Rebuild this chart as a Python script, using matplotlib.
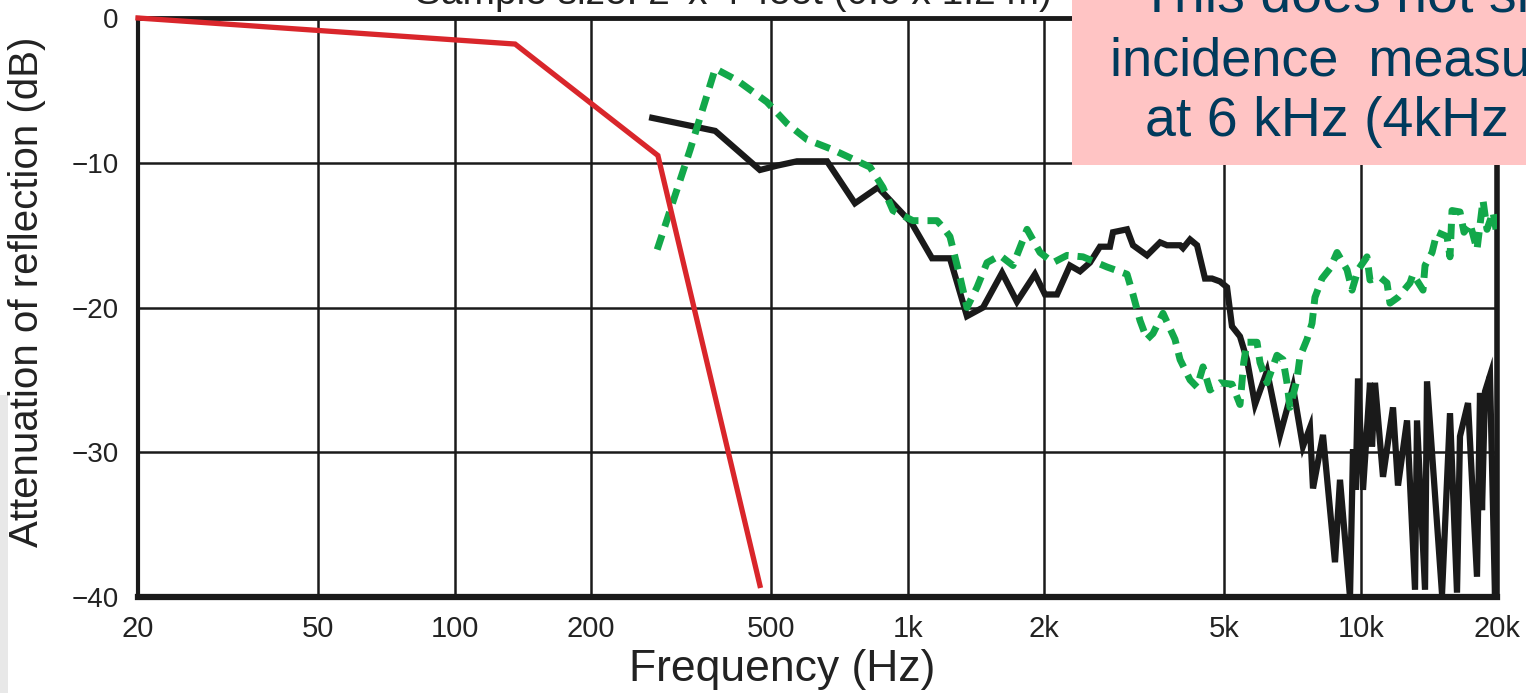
import matplotlib
matplotlib.use('Agg')
import matplotlib.pyplot as plt
from matplotlib.patches import Rectangle

# Red curve (steep roll-off)
red_freq = [20, 136, 281, 472]
red_db = [0.0, -1.8, -9.5, -39.2]

# Black curve (measured)
black_freq = [273, 376, 472, 515, 570, 664, 765, 860, 1022, 1132, 1240, 1352, 1467,
              1616, 1743, 1910, 2010, 2137, 2282, 2402, 2526, 2658, 2796, 2840, 3050,
              3144, 3376, 3608, 3738, 3994, 4054, 4202, 4354, 4534, 4698, 4892, 5070,
              5200, 5416, 5612, 5846, 6214, 6638, 7090, 7458, 7730, 7850, 8258, 8778,
              9004, 9474, 9620, 9750, 9868, 10122, 10488, 10596, 10758, 11204, 11788,
              12092, 12660, 13184, 13318, 13872, 14012, 15124, 15750, 16320, 16570,
              17260, 18066, 18346, 18534, 18818, 19300, 19798, 20000]
black_db = [-6.9, -7.8, -10.5, -10.2, -9.9, -9.9, -12.8, -11.7, -14.2, -16.6, -16.6, -20.6, -20.0,
            -17.6, -19.6, -17.7, -19.1, -19.1, -17.1, -17.5, -16.9, -15.8, -15.8, -14.8, -14.6,
            -15.7, -16.4, -15.5, -15.7, -15.7, -15.9, -15.3, -15.7, -18.0, -18.0, -18.2, -18.6,
            -21.3, -22.0, -23.6, -26.7, -24.4, -28.8, -25.5, -29.6, -28.3, -32.5, -28.8, -37.6,
            -31.9, -40.0, -29.8, -32.6, -24.9, -32.6, -25.2, -29.6, -25.2, -31.7, -26.9,
            -32.3, -27.8, -39.5, -27.8, -39.5, -25.1, -39.8, -27.3, -39.7, -28.9,
            -26.6, -38.6, -25.9, -34.0, -25.8, -24.7, -40.0, -30.5]

# Green dashed curve
green_freq = [280, 331, 376, 420, 489, 542, 600, 684, 826, 882, 928, 1027, 1161, 1200,
              1240, 1272, 1305, 1352, 1423, 1497, 1599, 1708, 1835, 1960, 2094, 2248,
              2438, 2754, 3050, 3144, 3258, 3376, 3480, 3662, 3892, 3994, 4202, 4354,
              4488, 4650, 4892, 5200, 5416, 5520, 5612, 5906, 5996, 6214, 6536, 6740,
              6878, 6982, 7234, 7346, 7614, 7810, 7928, 8216, 8560, 8870, 9334, 9572,
              9868, 10328, 10488, 11032, 11432, 11608, 12092, 12852, 13050, 13732, 13872,
              14376, 14746, 15512, 15750, 15912, 16570, 16912, 17436, 18066, 18628, 19010,
              19598, 20000]
green_db = [-16.0, -9.1, -3.5, -4.3, -5.8, -7.3, -8.4, -9.1, -10.3, -11.7, -13.3, -14.0, -14.0, -14.5,
            -15.1, -16.5, -17.9, -20.0, -18.6, -16.9, -16.4, -17.1, -14.6, -16.2, -16.9, -16.4,
            -16.5, -17.2, -17.7, -19.1, -20.9, -22.2, -21.8, -20.4, -22.2, -23.6, -25.0, -25.5,
            -24.1, -25.7, -25.2, -25.3, -26.7, -23.8, -22.4, -22.4, -23.8, -25.2, -23.3, -23.6,
            -25.2, -26.9, -25.0, -23.4, -22.2, -21.1, -19.3, -18.0, -17.3, -16.2, -17.4, -18.8,
            -17.4, -16.5, -18.1, -17.9, -18.3, -19.7, -19.3, -18.3, -17.7, -18.8, -17.1,
            -16.2, -14.8, -15.1, -16.5, -13.3, -13.4, -14.8, -14.2, -16.0, -12.6, -14.6,
            -13.4, -15.0]

x_ticks = [20, 50, 100, 200, 500, 1000, 2000, 5000, 10000, 20000]
x_labels = ['20', '50', '100', '200', '500', '1k', '2k', '5k', '10k', '20k']
y_ticks = [0, -10, -20, -30, -40]

W, H = 1526, 693
fig = plt.figure(figsize=(W / 100, H / 100), dpi=100)
fig.patch.set_facecolor('white')
ax = fig.add_axes([138 / W, 1 - 597 / H, (1497 - 138) / W, (597 - 18) / H])

ax.plot(red_freq, red_db, color='#d9262b', lw=3.8, solid_joinstyle='miter', zorder=4, clip_on=False)
ax.plot(black_freq, black_db, color='#1a1a1a', lw=4.5, solid_joinstyle='miter', zorder=3)
ax.plot(green_freq, green_db, color='#12a84a', lw=5.0, dashes=(2.2, 1.3), zorder=3)

ax.set_xscale('log')
ax.set_xlim(20, 20000)
ax.set_ylim(-40, 0)
ax.set_xticks(x_ticks)
ax.set_xticklabels(x_labels)
ax.minorticks_off()
ax.set_yticks(y_ticks)
ax.tick_params(length=0)
ax.tick_params(axis='y', pad=14, labelsize=20)
ax.tick_params(axis='x', pad=13, labelsize=21)
sans = ['Liberation Sans', 'DejaVu Sans']
for lab in ax.get_xticklabels() + ax.get_yticklabels():
    lab.set_family(sans)
    lab.set_color('#222222')
ax.grid(True, color='#1a1a1a', lw=1.8)
ax.set_axisbelow(True)
for side, lw in [('top', 3.5), ('left', 3.0), ('bottom', 4.5), ('right', 4.0)]:
    ax.spines[side].set_linewidth(lw)
    ax.spines[side].set_color('#1a1a1a')

fig.text(782 / W, 1 - 670 / H, 'Frequency (Hz)', ha='center', va='center', fontsize=32,
         family=sans, color='#222222')
fig.text(27 / W, 1 - 292 / H, 'Attenuation of reflection (dB)', rotation=90, ha='center', va='center',
         fontsize=29, family=sans, color='#222222')

# cut-off title at the top
fig.text(415 / W, 1 - 4 / H, "Sample size: 2' x 4' feet (0.6 x 1.2 m)", va='baseline',
         fontsize=28, family=sans, color='#222222', zorder=1)

# pink note box
fig.patches.append(Rectangle((1072 / W, 1 - 165 / H), 1 - 1072 / W, 165 / H, transform=fig.transFigure,
                             facecolor='#ffc4c4', edgecolor='none', zorder=10))
fig.text(1140 / W, 1 - 12 / H, 'This does not sh', va='baseline', fontsize=40, family=sans,
         color='#003a5c', zorder=11)
fig.text(1110 / W, 1 - 76 / H, 'incidence  measur', va='baseline', fontsize=39, family=sans,
         color='#003a5c', zorder=11)
fig.text(1145 / W, 1 - 136 / H, 'at 6 kHz (4kHz', va='baseline', fontsize=40, family=sans,
         color='#003a5c', zorder=11)

# light grey strip at left edge
fig.patches.append(Rectangle((0, 0), 8 / W, 1 - 395 / H, transform=fig.transFigure,
                             facecolor='#e8e8e8', edgecolor='none', zorder=0))

fig.savefig('out.png', dpi=100)
